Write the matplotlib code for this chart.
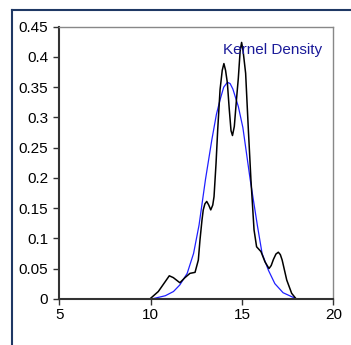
import numpy as np
import matplotlib.pyplot as plt
from matplotlib.lines import Line2D

plt.rcParams['font.family'] = ['Liberation Sans', 'DejaVu Sans']

# kernel density estimate (narrow bandwidth)
kde_x = [9.97, 10.42, 10.79, 11.02, 11.24, 11.6, 11.88, 12.15, 12.43, 12.61,
         12.7, 12.81, 12.88, 12.97, 13.07, 13.18, 13.29, 13.4, 13.47, 13.58,
         13.67, 13.8, 13.92, 14.01, 14.1, 14.2, 14.3, 14.4, 14.48, 14.58,
         14.7, 14.8, 14.9, 14.98, 15.06, 15.2, 15.35, 15.49, 15.66, 15.8,
         16.04, 16.26, 16.48, 16.6, 16.72, 16.86, 16.99, 17.1, 17.2, 17.45,
         17.72, 17.96]
kde_y = [0.0, 0.012, 0.028, 0.038, 0.035, 0.0265, 0.035, 0.042, 0.0437, 0.064,
         0.097, 0.13, 0.147, 0.157, 0.161, 0.155, 0.147, 0.155, 0.169, 0.224,
         0.279, 0.346, 0.378, 0.389, 0.378, 0.357, 0.315, 0.278, 0.27, 0.285,
         0.33, 0.365, 0.41, 0.424, 0.41, 0.373, 0.279, 0.197, 0.114, 0.086,
         0.078, 0.061, 0.05, 0.055, 0.065, 0.074, 0.077, 0.073, 0.064, 0.031,
         0.009, 0.0]

# normal fit
fit_x = [10.1, 10.8, 11.25, 11.6, 12.0, 12.35, 12.65, 13.0, 13.35, 13.6,
         13.8, 14.0, 14.2, 14.35, 14.5, 14.8, 15.05, 15.45, 15.85, 16.1,
         16.45, 16.8, 17.25, 17.9]
fit_y = [0.0, 0.005, 0.012, 0.023, 0.042, 0.075, 0.122, 0.197, 0.263, 0.305,
         0.329, 0.350, 0.358, 0.356, 0.347, 0.318, 0.283, 0.197, 0.12, 0.075,
         0.047, 0.025, 0.010, 0.001]

fig = plt.figure(figsize=(3.51, 3.45), dpi=100)
ax = fig.add_axes([0.169, 0.134, 0.7806, 0.7886])

ax.plot(fit_x, fit_y, color='#2020ff', lw=0.9)
ax.plot(kde_x, kde_y, color='black', lw=1.1)

ax.set_xlim(5, 20)
ax.set_ylim(0, 0.45)
ax.set_xticks([5, 10, 15, 20])
ax.set_yticks(np.arange(0, 0.46, 0.05))
ax.set_yticklabels(['0', '0.05', '0.1', '0.15', '0.2', '0.25', '0.3',
                    '0.35', '0.4', '0.45'])
ax.tick_params(labelsize=11, length=4, width=1, color='#333333')
ax.tick_params(axis='y', pad=4)
ax.tick_params(axis='x', pad=3)

for s in ['left', 'bottom']:
    ax.spines[s].set_color('#333333')
    ax.spines[s].set_linewidth(1.5)
for s in ['top', 'right']:
    ax.spines[s].set_color('#888888')
    ax.spines[s].set_linewidth(1.0)

ax.text(13.94, 0.411, 'Kernel Density', color='#1a1a99', fontsize=11,
        ha='left', va='center')

# outer frame
fig.add_artist(Line2D([0.0356, 0.0356], [0, 0.9696], color='#1f3864', lw=1.5))
fig.add_artist(Line2D([0.0356, 1.0], [0.9696, 0.9696], color='#1f3864', lw=1.5))

fig.savefig('out.png', dpi=100)
